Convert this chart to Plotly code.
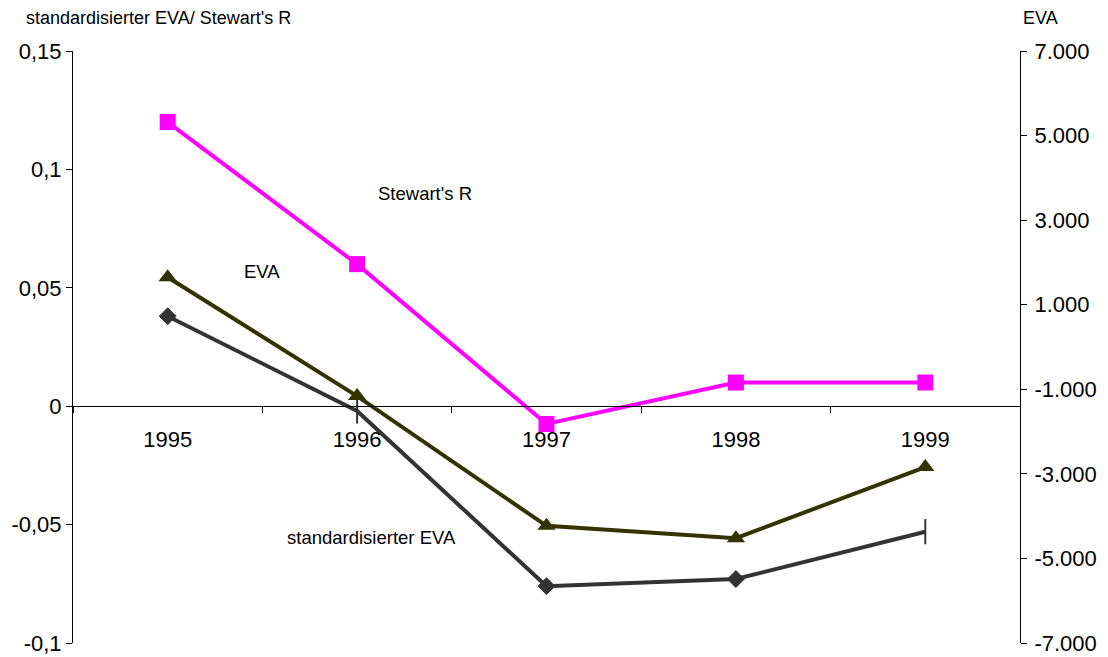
import plotly.graph_objects as go

years = ["1995", "1996", "1997", "1998", "1999"]
stewarts_r = [0.12, 0.06, -0.0075, 0.01, 0.01]
std_eva = [0.038, -0.002, -0.076, -0.073, -0.053]
eva = [1650, -1160, -4230, -4520, -2840]

left_ticks = [0.15, 0.1, 0.05, 0, -0.05, -0.1]
left_ticktext = ["0,15", "0,1", "0,05", "0", "-0,05", "-0,1"]
right_ticks = [7000, 5000, 3000, 1000, -1000, -3000, -5000, -7000]
right_ticktext = ["7.000", "5.000", "3.000", "1.000", "-1.000", "-3.000", "-5.000", "-7.000"]

W, H = 1108, 657
L, R, T, B = 73, 1020, 51, 643
FONT = "Liberation Sans, Arial, sans-serif"


def px(x):
    return (x - L) / (R - L)


def py(y):
    return (B - y) / (B - T)


fig = go.Figure()

fig.add_trace(go.Scatter(
    x=years, y=stewarts_r, name="Stewart's R", mode="lines+markers",
    line=dict(color="#FF00FF", width=4),
    marker=dict(symbol="square", size=16, color="#FF00FF"),
    yaxis="y", cliponaxis=False,
))
fig.add_trace(go.Scatter(
    x=years, y=std_eva, name="standardisierter EVA", mode="lines+markers",
    line=dict(color="#333333", width=4),
    marker=dict(symbol=["diamond", "line-ns", "diamond", "diamond", "line-ns"],
                size=[13, 18, 13, 13, 18], color="#333333", opacity=1,
                line=dict(color="#333333", width=[1, 2, 1, 1, 2])),
    yaxis="y", cliponaxis=False,
))
fig.add_trace(go.Scatter(
    x=years, y=eva, name="EVA", mode="lines+markers",
    line=dict(color="#333300", width=4),
    marker=dict(symbol="triangle-up", size=16, color="#333300"),
    yaxis="y2", cliponaxis=False,
))

fig.update_layout(
    width=W, height=H,
    margin=dict(l=L, r=W - R, t=T, b=H - B, autoexpand=False),
    paper_bgcolor="white", plot_bgcolor="white",
    showlegend=False,
    font=dict(family=FONT, color="black", size=18),
    xaxis=dict(
        type="category", anchor="free", position=py(406),
        showline=True, linecolor="black", linewidth=1,
        ticks="outside", ticklen=6, tickcolor="black", tickwidth=1,
        tickson="boundaries", showgrid=False, zeroline=False,
        tickfont=dict(size=22, family=FONT), range=[-0.5, 4.5],
        ticklabelstandoff=14, automargin=False,
    ),
    yaxis=dict(
        range=[-0.1, 0.15], tickvals=left_ticks, ticktext=left_ticktext,
        showline=True, linecolor="black", linewidth=1,
        ticks="outside", ticklen=6, tickcolor="black",
        showgrid=False, zeroline=False, tickfont=dict(size=22, family=FONT),
        automargin=False,
    ),
    yaxis2=dict(
        range=[-7000, 7000], tickvals=right_ticks, ticktext=right_ticktext,
        overlaying="y", side="right", anchor="x",
        showline=True, linecolor="black", linewidth=1,
        ticks="outside", ticklen=6, tickcolor="black",
        showgrid=False, zeroline=False, tickfont=dict(size=22, family=FONT),
        ticklabelstandoff=3, automargin=False,
    ),
    annotations=[
        dict(text="standardisierter EVA/ Stewart's R", xref="paper", yref="paper",
             x=px(24), y=py(18), xanchor="left", yanchor="middle", showarrow=False,
             font=dict(size=18)),
        dict(text="EVA", xref="paper", yref="paper",
             x=px(1040), y=py(18), xanchor="center", yanchor="middle", showarrow=False,
             font=dict(size=18)),
        dict(text="Stewart's R", xref="paper", yref="paper",
             x=px(425), y=py(193), xanchor="center", yanchor="middle", showarrow=False,
             font=dict(size=18.5)),
        dict(text="EVA", xref="paper", yref="paper",
             x=px(262), y=py(271), xanchor="center", yanchor="middle", showarrow=False,
             font=dict(size=18.5)),
        dict(text="standardisierter EVA", xref="paper", yref="paper",
             x=px(371), y=py(537), xanchor="center", yanchor="middle", showarrow=False,
             font=dict(size=18.5)),
    ],
)

fig.write_html(
    "out.html",
    config={"displayModeBar": False},
    post_script="document.body.style.margin='0px';document.body.style.overflow='hidden';",
)
